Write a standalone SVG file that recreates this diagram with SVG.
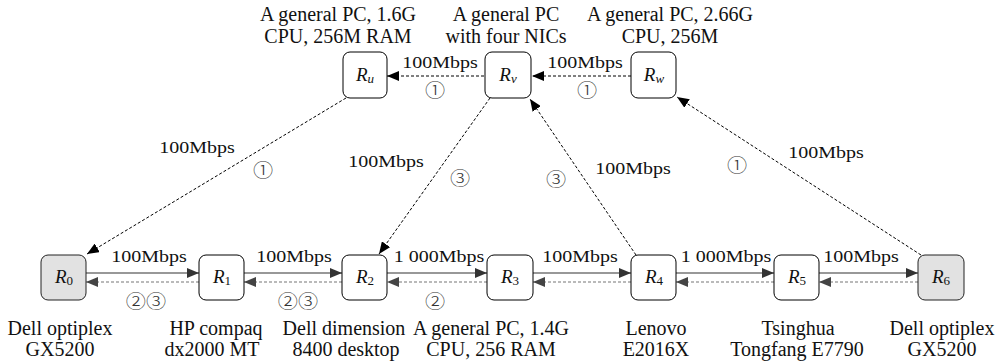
<svg xmlns="http://www.w3.org/2000/svg" width="1002" height="364" viewBox="0 0 1002 364">
<defs>
<style>
.box{fill:#fff;stroke:#000;stroke-width:1}
.gbox{fill:#e2e2e2;stroke:#222;stroke-width:1}
.nl{font-family:"Liberation Serif","Times New Roman",serif;font-size:19px;font-style:italic;text-anchor:middle;fill:#111}
.sub{font-style:normal;font-size:13px}
.subi{font-style:italic;font-size:13px}
.d{font-family:"Liberation Serif","Times New Roman",serif;font-size:20px;fill:#111;text-anchor:middle}
.t{font-family:"Liberation Serif","Times New Roman",serif;font-size:16px;fill:#111;text-anchor:middle}
.c{font-family:"Noto Sans CJK SC","DejaVu Sans",sans-serif;font-size:18px;fill:#333;text-anchor:middle;font-weight:300}
.dk{stroke:#000;stroke-width:1;fill:none;stroke-dasharray:3,2}
.sol{stroke:#333;stroke-width:1.2;fill:none}
.dg{stroke:#777;stroke-width:1.2;fill:none;stroke-dasharray:3,2}
</style>
<marker id="ak" markerUnits="userSpaceOnUse" markerWidth="12" markerHeight="10" refX="12" refY="5" orient="auto"><path d="M0,0 L12,5 L0,10 z" fill="#000"/></marker>
<marker id="as" markerUnits="userSpaceOnUse" markerWidth="12" markerHeight="10" refX="12" refY="5" orient="auto"><path d="M0,0 L12,5 L0,10 z" fill="#333"/></marker>
<marker id="ag" markerUnits="userSpaceOnUse" markerWidth="12" markerHeight="10" refX="12" refY="5" orient="auto"><path d="M0,0 L12,5 L0,10 z" fill="#444"/></marker>
</defs>
<rect width="1002" height="364" fill="#fff"/>

<g id="connectors">
  <line class="dk" x1="484" y1="76" x2="387" y2="76" marker-end="url(#ak)"/>
  <line class="dk" x1="631" y1="76" x2="532" y2="76" marker-end="url(#ak)"/>
  <line class="dk" x1="346" y1="98" x2="87" y2="254" marker-end="url(#ak)"/>
  <line class="dk" x1="490" y1="98" x2="379" y2="254" marker-end="url(#ak)"/>
  <line class="dk" x1="636" y1="255" x2="530" y2="99" marker-end="url(#ak)"/>
  <line class="dk" x1="921" y1="255" x2="677" y2="97" marker-end="url(#ak)"/>
  <line class="sol" x1="86" y1="273" x2="199" y2="273" marker-end="url(#as)"/>
  <line class="dg" x1="199" y1="282" x2="86" y2="282" marker-end="url(#ag)"/>
  <line class="sol" x1="244" y1="273" x2="342" y2="273" marker-end="url(#as)"/>
  <line class="dg" x1="342" y1="282" x2="244" y2="282" marker-end="url(#ag)"/>
  <line class="sol" x1="387" y1="273" x2="487" y2="273" marker-end="url(#as)"/>
  <line class="dg" x1="487" y1="282" x2="387" y2="282" marker-end="url(#ag)"/>
  <line class="sol" x1="533" y1="273" x2="631" y2="273" marker-end="url(#as)"/>
  <line class="dg" x1="631" y1="282" x2="533" y2="282" marker-end="url(#ag)"/>
  <line class="sol" x1="676" y1="273" x2="774" y2="273" marker-end="url(#as)"/>
  <line class="dg" x1="774" y1="282" x2="676" y2="282" marker-end="url(#ag)"/>
  <line class="sol" x1="819" y1="273" x2="918" y2="273" marker-end="url(#as)"/>
  <line class="dg" x1="918" y1="282" x2="819" y2="282" marker-end="url(#ag)"/>
</g>

<g id="connector-labels">
  <text class="t" transform="translate(440,68) scale(1.25,1)">100Mbps</text>
  <text class="c" transform="translate(435,97) scale(1.12,1)">①</text>
  <text class="t" transform="translate(585,68) scale(1.25,1)">100Mbps</text>
  <text class="c" transform="translate(587,97) scale(1.12,1)">①</text>
  <text class="t" transform="translate(197,153) scale(1.25,1)">100Mbps</text>
  <text class="c" transform="translate(263,177) scale(1.12,1)">①</text>
  <text class="t" transform="translate(386,167) scale(1.25,1)">100Mbps</text>
  <text class="c" transform="translate(460,185) scale(1.12,1)">③</text>
  <text class="t" transform="translate(633,174) scale(1.25,1)">100Mbps</text>
  <text class="c" transform="translate(556,186) scale(1.12,1)">③</text>
  <text class="t" transform="translate(826,158) scale(1.25,1)">100Mbps</text>
  <text class="c" transform="translate(737,172) scale(1.12,1)">①</text>
  <text class="t" transform="translate(149,262) scale(1.25,1)">100Mbps</text>
  <text class="c" transform="translate(146,308) scale(1.12,1)">②③</text>
  <text class="t" transform="translate(294,262) scale(1.25,1)">100Mbps</text>
  <text class="c" transform="translate(298,308) scale(1.12,1)">②③</text>
  <text class="t" transform="translate(439,262) scale(1.25,1)">1 000Mbps</text>
  <text class="c" transform="translate(435,308) scale(1.12,1)">②</text>
  <text class="t" transform="translate(580,262) scale(1.25,1)">100Mbps</text>
  <text class="t" transform="translate(726,262) scale(1.25,1)">1 000Mbps</text>
  <text class="t" transform="translate(861,262) scale(1.25,1)">100Mbps</text>
</g>

<g id="Ru">
  <rect class="box" x="343" y="52" width="44" height="46" rx="7"/>
  <text class="nl" x="365" y="81">R<tspan class="subi" dy="2">u</tspan></text>
  <text class="d" x="338" y="21">A general PC, 1.6G</text>
  <text class="d" x="338" y="43">CPU, 256M RAM</text>
</g>
<g id="Rv">
  <rect class="box" x="485" y="52" width="46" height="46" rx="7"/>
  <text class="nl" x="508" y="81">R<tspan class="subi" dy="2">v</tspan></text>
  <text class="d" x="506" y="21">A general PC</text>
  <text class="d" x="506" y="43">with four NICs</text>
</g>
<g id="Rw">
  <rect class="box" x="631" y="52" width="45" height="46" rx="7"/>
  <text class="nl" x="654" y="81">R<tspan class="subi" dy="2">w</tspan></text>
  <text class="d" x="670" y="21">A general PC, 2.66G</text>
  <text class="d" x="670" y="43">CPU, 256M</text>
</g>

<g id="R0">
  <rect class="gbox" x="41" y="255" width="45" height="45" rx="7"/>
  <text class="nl" x="64" y="283">R<tspan class="sub" dy="2">0</tspan></text>
  <text class="d" x="60" y="335">Dell optiplex</text>
  <text class="d" x="60" y="356">GX5200</text>
</g>
<g id="R1">
  <rect class="box" x="199" y="255" width="45" height="45" rx="7"/>
  <text class="nl" x="222" y="283">R<tspan class="sub" dy="2">1</tspan></text>
  <text class="d" x="216" y="335">HP compaq</text>
  <text class="d" x="212" y="356">dx2000 MT</text>
</g>
<g id="R2">
  <rect class="box" x="342" y="255" width="45" height="45" rx="7"/>
  <text class="nl" x="365" y="283">R<tspan class="sub" dy="2">2</tspan></text>
  <text class="d" x="344" y="335">Dell dimension</text>
  <text class="d" x="346" y="356">8400 desktop</text>
</g>
<g id="R3">
  <rect class="box" x="487" y="255" width="46" height="45" rx="7"/>
  <text class="nl" x="510" y="283">R<tspan class="sub" dy="2">3</tspan></text>
  <text class="d" x="491" y="335">A general PC, 1.4G</text>
  <text class="d" x="491" y="356">CPU, 256 RAM</text>
</g>
<g id="R4">
  <rect class="box" x="631" y="255" width="45" height="45" rx="7"/>
  <text class="nl" x="654" y="283">R<tspan class="sub" dy="2">4</tspan></text>
  <text class="d" x="656" y="335">Lenovo</text>
  <text class="d" x="656" y="356">E2016X</text>
</g>
<g id="R5">
  <rect class="box" x="774" y="255" width="45" height="45" rx="7"/>
  <text class="nl" x="797" y="283">R<tspan class="sub" dy="2">5</tspan></text>
  <text class="d" x="798" y="335">Tsinghua</text>
  <text class="d" x="797" y="356">Tongfang E7790</text>
</g>
<g id="R6">
  <rect class="gbox" x="918" y="255" width="46" height="45" rx="7"/>
  <text class="nl" x="941" y="283">R<tspan class="sub" dy="2">6</tspan></text>
  <text class="d" x="942" y="335">Dell optiplex</text>
  <text class="d" x="942" y="356">GX5200</text>
</g>
</svg>
